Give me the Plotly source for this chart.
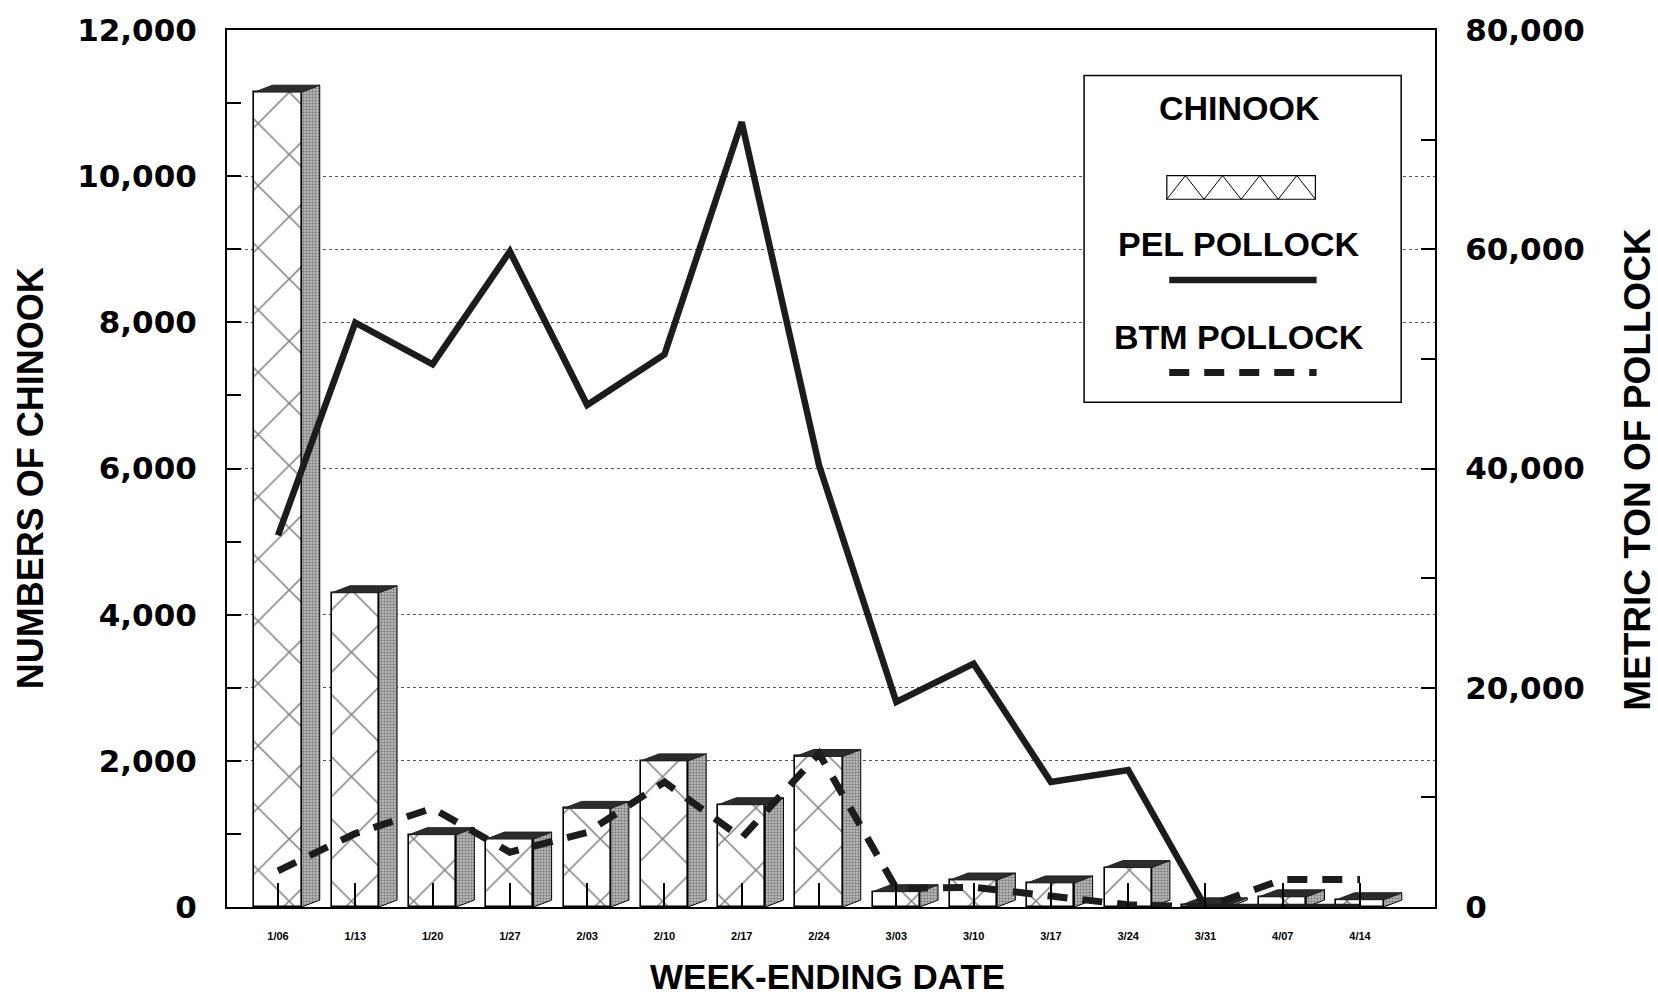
import plotly.graph_objects as go

# ---------------- data ----------------
weeks = ["1/06", "1/13", "1/20", "1/27", "2/03", "2/10", "2/17", "2/24",
         "3/03", "3/10", "3/17", "3/24", "3/31", "4/07", "4/14"]
chinook = [11150, 4300, 990, 930, 1350, 2000, 1400, 2060,
           210, 370, 330, 540, 30, 140, 100]
pel_pollock = [33900, 53300, 49500, 59800, 45800, 50400, 71600, 40300,
               18700, 22200, 11400, 12500, 0, 0, 0]
btm_pollock = [3300, 6700, 9000, 5000, 6800, 11400, 6300, 14000,
               1700, 1800, 1000, 200, 0, 2500, 2500]
left_ticks = [0, 2000, 4000, 6000, 8000, 10000, 12000]
right_ticks = [0, 20000, 40000, 60000, 80000]

# ---------------- styling constants ----------------
W = 0.61      # front face width (category units)
DX = 0.235    # 3-D depth, horizontal (category units)
DY = 95       # 3-D depth, vertical (chinook units)
TICKFONT = "DejaVu Sans, Verdana, sans-serif"
TEXTFONT = "Liberation Sans, Arial, Helvetica, sans-serif"

xs = list(range(len(weeks)))

side_x, side_y, top_x, top_y = [], [], [], []
for x, v in zip(xs, chinook):
    xl, xr = x - W / 2, x + W / 2
    side_x += [xr, xr + DX, xr + DX, xr, xr, None]
    side_y += [0, DY, v + DY, v, 0, None]
    top_x += [xl, xl + DX, xr + DX, xr, xl, None]
    top_y += [v, v + DY, v + DY, v, v, None]

fig = go.Figure()

fig.add_trace(go.Bar(
    x=xs, y=chinook, width=W, name="CHINOOK", showlegend=False,
    marker=dict(color="white",
                line=dict(color="black", width=1.6),
                pattern=dict(shape="x", size=44, solidity=0.07,
                             fgcolor="black", bgcolor="white",
                             fillmode="overlay")),
))
fig.add_trace(go.Scatter(
    x=side_x, y=side_y, mode="lines", fill="toself", showlegend=False,
    line=dict(color="black", width=1),
    fillcolor="#9c9c9c",
    fillpattern=dict(shape=".", size=3, solidity=0.5,
                     fgcolor="#3c3c3c", bgcolor="#c4c4c4"),
    hoverinfo="skip",
))
fig.add_trace(go.Scatter(
    x=top_x, y=top_y, mode="lines", fill="toself", showlegend=False,
    line=dict(color="#222222", width=1), fillcolor="#2c2c2c",
    hoverinfo="skip",
))
fig.add_trace(go.Scatter(
    x=xs, y=pel_pollock, yaxis="y2", mode="lines", name="PEL POLLOCK",
    showlegend=False, line=dict(color="#1c1c1c", width=6.5),
))
fig.add_trace(go.Scatter(
    x=xs, y=btm_pollock, yaxis="y2", mode="lines", name="BTM POLLOCK",
    showlegend=False, line=dict(color="#1c1c1c", width=7, dash="20px,15px"),
))

fig.update_layout(
    width=1658, height=1001,
    margin=dict(l=227, r=223, t=26, b=94),
    paper_bgcolor="white", plot_bgcolor="white",
    font=dict(family=TEXTFONT, color="black"),
    bargap=0,
    xaxis=dict(
        range=[-0.66, 14.97], tickmode="array", tickvals=xs, ticktext=weeks,
        ticks="inside", ticklen=24, tickwidth=1.5, tickcolor="black",
        showline=True, linecolor="black", linewidth=2, mirror=True,
        showgrid=False, zeroline=False, ticklabelstandoff=18,
        tickfont=dict(family=TEXTFONT, size=11, weight="bold"),
    ),
    yaxis=dict(
        range=[0, 12000], tickmode="array", tickvals=left_ticks,
        tickformat=",d", ticks="inside", ticklen=14, tickwidth=1.5,
        tickcolor="black", showline=True, linecolor="black", linewidth=2,
        zeroline=False, showgrid=True, gridcolor="#555555", gridwidth=1,
        griddash="dot", ticklabelstandoff=22,
        minor=dict(dtick=1000, ticks="inside", ticklen=14, tickwidth=1.5,
                   tickcolor="black", showgrid=False),
        tickfont=dict(family=TICKFONT, size=31, weight="bold"),
    ),
    yaxis2=dict(
        range=[0, 80000], overlaying="y", side="right", tickmode="array",
        tickvals=right_ticks, tickformat=",d", ticks="inside", ticklen=14,
        tickwidth=1.5, tickcolor="black", showline=True, linecolor="black",
        linewidth=2, zeroline=False, showgrid=True, gridcolor="#555555",
        gridwidth=1, griddash="dot", ticklabelstandoff=22,
        minor=dict(dtick=10000, ticks="inside", ticklen=14, tickwidth=1.5,
                   tickcolor="black", showgrid=False),
        tickfont=dict(family=TICKFONT, size=31, weight="bold"),
    ),
)

# ---------------- custom legend ----------------
LX0, LX1, LY0, LY1 = 0.7095, 0.972, 0.5755, 0.948
fig.add_shape(type="rect", xref="paper", yref="paper", x0=LX0, x1=LX1,
              y0=LY0, y1=LY1, line=dict(color="black", width=1.5),
              fillcolor="white", layer="above")
sx0, sx1, sy0, sy1 = 0.778, 0.901, 0.807, 0.834
fig.add_shape(type="rect", xref="paper", yref="paper", x0=sx0, x1=sx1,
              y0=sy0, y1=sy1, line=dict(color="black", width=1.2),
              fillcolor="white", layer="above")
n = 8
pts = []
for k in range(n + 1):
    px = sx0 + (sx1 - sx0) * k / n
    py = sy0 if k % 2 == 0 else sy1
    pts.append(f"{'M' if k == 0 else 'L'} {px:.4f},{py:.4f}")
fig.add_shape(type="path", xref="paper", yref="paper", path=" ".join(pts),
              line=dict(color="black", width=1), layer="above")
fig.add_shape(type="line", xref="paper", yref="paper", x0=0.780, x1=0.902,
              y0=0.715, y1=0.715, line=dict(color="#1c1c1c", width=6.5),
              layer="above")
fig.add_shape(type="line", xref="paper", yref="paper", x0=0.780, x1=0.902,
              y0=0.6095, y1=0.6095,
              line=dict(color="#1c1c1c", width=7, dash="20px,15px"),
              layer="above")

legend_texts = [("CHINOOK", 0.911), ("PEL POLLOCK", 0.756), ("BTM POLLOCK", 0.650)]
for txt, yy in legend_texts:
    fig.add_annotation(text=txt, xref="paper", yref="paper", x=0.838, y=yy,
                       xanchor="center", yanchor="middle", showarrow=False,
                       font=dict(family=TEXTFONT, size=34, weight="bold"))

# ---------------- axis titles ----------------
fig.add_annotation(text="NUMBERS OF CHINOOK", xref="paper", yref="paper",
                   x=-0.163, y=0.489, textangle=-90, showarrow=False,
                   xanchor="center", yanchor="middle",
                   font=dict(family=TEXTFONT, size=36, weight="bold"))
fig.add_annotation(text="METRIC TON OF POLLOCK", xref="paper", yref="paper",
                   x=1.167, y=0.4994, textangle=-90, showarrow=False,
                   xanchor="center", yanchor="middle",
                   font=dict(family=TEXTFONT, size=37, weight="bold"))
fig.add_annotation(text="WEEK-ENDING DATE", xref="paper", yref="paper",
                   x=0.4975, y=-0.0795, showarrow=False,
                   xanchor="center", yanchor="middle",
                   font=dict(family=TEXTFONT, size=35, weight="bold"))

fig.write_html("out.html",
               config={"displayModeBar": False},
               post_script="document.body.style.margin='0';"
                           "document.body.style.overflow='hidden';")
